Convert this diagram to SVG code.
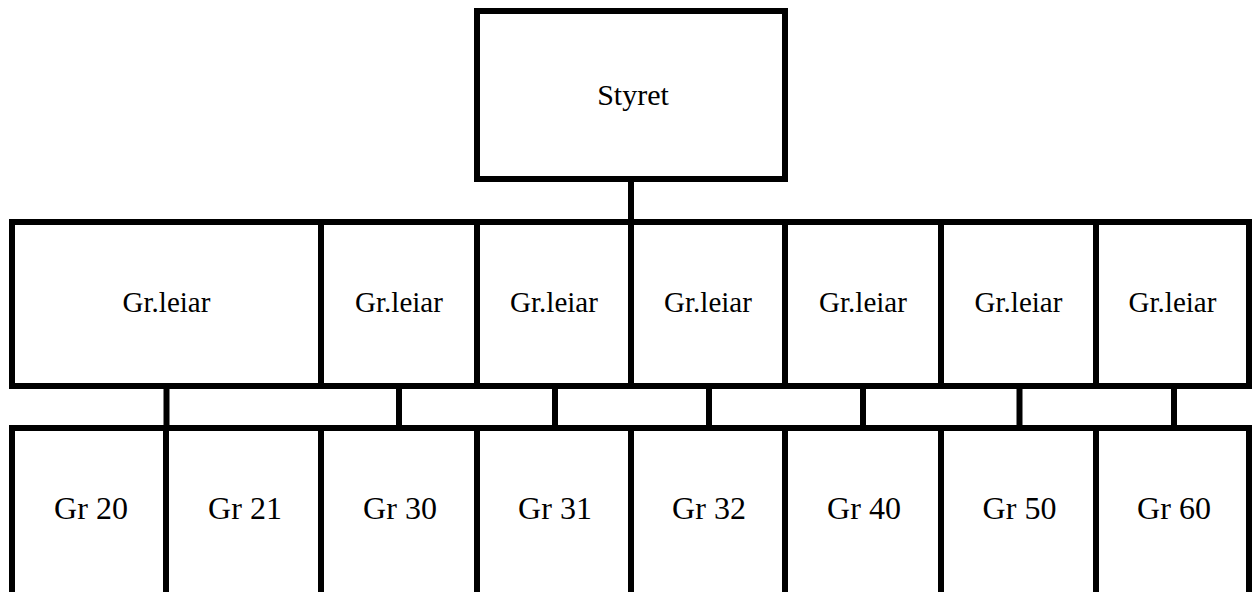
<svg xmlns="http://www.w3.org/2000/svg" width="1252" height="592" viewBox="0 0 1252 592">
<style>
rect{fill:#fff;stroke:#000;stroke-width:6}
line{stroke:#000;stroke-width:6}
text{font-family:'Liberation Serif',Tinos,'Times New Roman',Times,serif;fill:#000;text-anchor:middle}
.t{font-size:30px}
.m{font-size:29px}
.b{font-size:32px}
</style>
<rect x="0" y="0" width="1252" height="592" style="stroke:none"/>
<g id="connectors">
<line x1="631" y1="179" x2="631" y2="222"/>
<line x1="166.5" y1="386" x2="166.5" y2="428"/>
<line x1="399" y1="386" x2="399" y2="428"/>
<line x1="555" y1="386" x2="555" y2="428"/>
<line x1="709" y1="386" x2="709" y2="428"/>
<line x1="863" y1="386" x2="863" y2="428"/>
<line x1="1019.5" y1="386" x2="1019.5" y2="428"/>
<line x1="1174" y1="386" x2="1174" y2="428"/>
</g>
<g font-family="Liberation Serif, serif">
<g id="styret"><rect x="477" y="11" width="308" height="168"/><text class="t" x="633" y="104.5">Styret</text></g>
<g id="leiar1"><rect x="12" y="222" width="309" height="164"/><text class="m" x="166.5" y="312">Gr.leiar</text></g>
<g id="leiar2"><rect x="321" y="222" width="156" height="164"/><text class="m" x="399" y="312">Gr.leiar</text></g>
<g id="leiar3"><rect x="477" y="222" width="154" height="164"/><text class="m" x="554" y="312">Gr.leiar</text></g>
<g id="leiar4"><rect x="631" y="222" width="154" height="164"/><text class="m" x="708" y="312">Gr.leiar</text></g>
<g id="leiar5"><rect x="785" y="222" width="156" height="164"/><text class="m" x="863" y="312">Gr.leiar</text></g>
<g id="leiar6"><rect x="941" y="222" width="155" height="164"/><text class="m" x="1018.5" y="312">Gr.leiar</text></g>
<g id="leiar7"><rect x="1096" y="222" width="153" height="164"/><text class="m" x="1172.5" y="312">Gr.leiar</text></g>
<g id="gr20"><rect x="12" y="428" width="154" height="180"/><text class="b" x="91" y="519">Gr 20</text></g>
<g id="gr21"><rect x="166" y="428" width="155" height="180"/><text class="b" x="245" y="519">Gr 21</text></g>
<g id="gr30"><rect x="321" y="428" width="156" height="180"/><text class="b" x="400" y="519">Gr 30</text></g>
<g id="gr31"><rect x="477" y="428" width="154" height="180"/><text class="b" x="555" y="519">Gr 31</text></g>
<g id="gr32"><rect x="631" y="428" width="154" height="180"/><text class="b" x="709" y="519">Gr 32</text></g>
<g id="gr40"><rect x="785" y="428" width="156" height="180"/><text class="b" x="864" y="519">Gr 40</text></g>
<g id="gr50"><rect x="941" y="428" width="155" height="180"/><text class="b" x="1019.5" y="519">Gr 50</text></g>
<g id="gr60"><rect x="1096" y="428" width="153" height="180"/><text class="b" x="1174" y="519">Gr 60</text></g>
</g>
</svg>
